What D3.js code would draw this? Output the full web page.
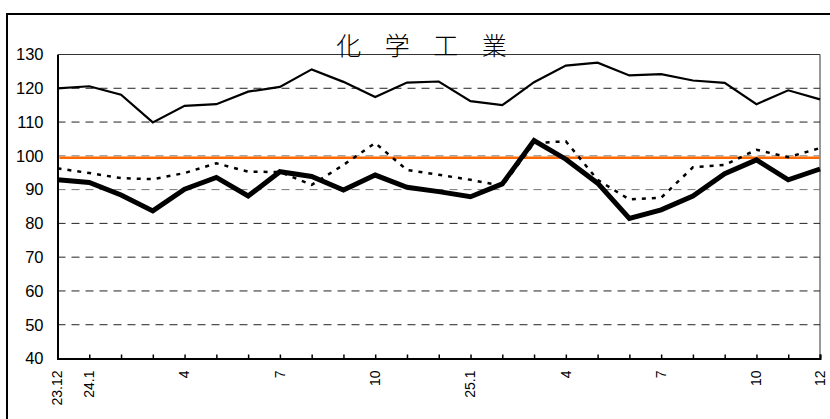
<!DOCTYPE html>
<html>
<head>
<meta charset="utf-8">
<script src="https://cdn.jsdelivr.net/npm/d3@7"></script>
<style>
  body { margin: 0; background: #fff; }
  svg { display: block; }
</style>
</head>
<body>
<svg id="chart"></svg>
<script>
// months from 23.12 to 25.12
const months = ["23.12", "24.1", "2", "3", "4", "5", "6", "7", "8", "9", "10", "11", "12",
                "25.1", "2", "3", "4", "5", "6", "7", "8", "9", "10", "11", "12"];
const shownLabels = [0, 1, 4, 7, 10, 13, 16, 19, 22, 24];

// thin solid line
const series1 = [120.0, 120.6, 118.1, 109.9, 114.8, 115.3, 119.0, 120.4, 125.6, 121.9, 117.4, 121.7,
                 122.0, 116.2, 115.0, 121.8, 126.7, 127.6, 123.8, 124.2, 122.3, 121.6, 115.3, 119.4, 116.7];
// dotted line
const series2 = [96.3, 94.9, 93.4, 93.1, 94.9, 97.8, 95.3, 95.2, 91.4, 97.3, 103.8, 95.8,
                 94.4, 92.9, 91.1, 103.8, 104.3, 92.9, 87.1, 87.6, 96.6, 97.3, 101.8, 99.6, 102.3];
// thick solid line
const series3 = [92.9, 92.1, 88.4, 83.7, 90.1, 93.6, 88.1, 95.3, 93.9, 89.9, 94.3, 90.7,
                 89.4, 87.9, 91.7, 104.5, 99.0, 91.9, 81.5, 84.0, 88.1, 94.7, 98.8, 92.9, 96.1];
const referenceLevel = 99.4;
const yTicks = [40, 50, 60, 70, 80, 90, 100, 110, 120, 130];

const width = 830, height = 419;
const plot = { left: 57.5, right: 820, top: 54.5, bottom: 358.5 };

const svg = d3.select("#chart")
    .attr("width", width)
    .attr("height", height);

// outer frame (only left and top are inside the picture)
svg.append("rect")
    .attr("x", 7).attr("y", 14)
    .attr("width", 900).attr("height", 500)
    .attr("fill", "none")
    .attr("stroke", "#000")
    .attr("stroke-width", 2);

const x = d3.scaleLinear().domain([0, months.length - 1]).range([plot.left, plot.right]);
const y = d3.scaleLinear().domain([40, 130]).range([plot.bottom, plot.top]);

// plot area border (top and right)
svg.append("path")
    .attr("d", `M${plot.left},${plot.top}H${plot.right}V${plot.bottom}`)
    .attr("fill", "none")
    .attr("stroke", "#333")
    .attr("stroke-width", 1);

// dashed gridlines
svg.append("g")
    .selectAll("line")
    .data(yTicks.filter(d => d > 40 && d < 130))
    .join("line")
    .attr("x1", plot.left).attr("x2", plot.right)
    .attr("y1", d => y(d)).attr("y2", d => y(d))
    .attr("stroke", d => (d === 90 || d === 100) ? "#777" : "#222")
    .attr("stroke-width", 1)
    .attr("stroke-dasharray", "8,6");

// y axis
const yAxis = svg.append("g")
    .attr("transform", `translate(${plot.left},0)`)
    .call(d3.axisLeft(y).tickValues(yTicks).tickSize(0).tickPadding(14));
yAxis.select(".domain").attr("stroke", "#000").attr("stroke-width", 2);
yAxis.selectAll("text")
    .attr("font-family", "Liberation Sans, Arial, sans-serif")
    .attr("font-size", 16.5)
    .attr("fill", "#000");

// x axis with inward ticks
const xAxis = svg.append("g")
    .attr("transform", `translate(0,${plot.bottom})`)
    .call(d3.axisBottom(x)
        .tickValues(d3.range(months.length))
        .tickSize(-4)
        .tickFormat(""));
xAxis.select(".domain").attr("stroke", "#000").attr("stroke-width", 2);
xAxis.selectAll(".tick line").attr("stroke", "#000").attr("stroke-width", 1.5);

svg.append("g")
    .selectAll("text")
    .data(shownLabels)
    .join("text")
    .attr("transform", d => `translate(${x(d)},${plot.bottom + 12}) rotate(-90)`)
    .attr("text-anchor", "end")
    .attr("dy", "0.35em")
    .attr("font-family", "Liberation Sans, Arial, sans-serif")
    .attr("font-size", 14)
    .attr("fill", "#000")
    .text(d => months[d]);

// reference level
svg.append("line")
    .attr("x1", plot.left + 2).attr("x2", plot.right)
    .attr("y1", y(referenceLevel)).attr("y2", y(referenceLevel))
    .attr("stroke", "#ff6a00")
    .attr("stroke-width", 2.5);

const line = d3.line().x((d, i) => x(i)).y(d => y(d));

svg.append("path")
    .datum(series2)
    .attr("d", line)
    .attr("fill", "none")
    .attr("stroke", "#000")
    .attr("stroke-width", 2.5)
    .attr("stroke-dasharray", "4,6");

svg.append("path")
    .datum(series1)
    .attr("d", line)
    .attr("fill", "none")
    .attr("stroke", "#000")
    .attr("stroke-width", 2.2);

svg.append("path")
    .datum(series3)
    .attr("d", line)
    .attr("fill", "none")
    .attr("stroke", "#000")
    .attr("stroke-width", 5)
    .attr("stroke-linejoin", "miter");

// title
svg.append("text")
    .attr("x", 426)
    .attr("y", 55)
    .attr("text-anchor", "middle")
    .attr("font-family", "Noto Sans CJK JP, sans-serif")
    .attr("font-weight", 300)
    .attr("font-size", 25)
    .attr("letter-spacing", 9)
    .attr("fill", "#000")
    .text("化 学 工 業");
</script>
</body>
</html>
